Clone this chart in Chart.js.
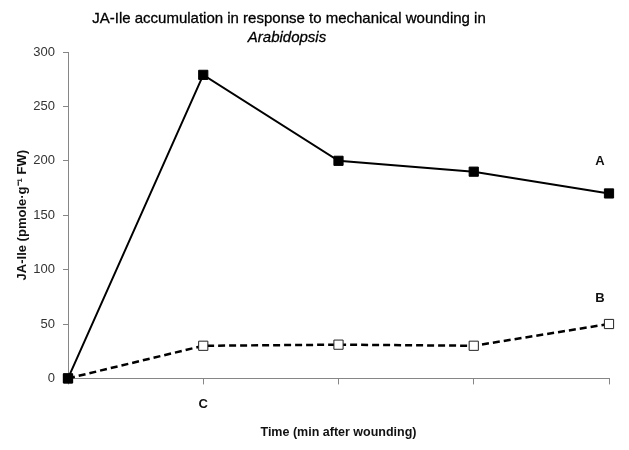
<!DOCTYPE html>
<html>
<head>
<meta charset="utf-8">
<script src="https://cdn.jsdelivr.net/npm/chart.js@4.4.1/dist/chart.umd.min.js"></script>
<style>
  html, body { margin: 0; padding: 0; background: #fff; }
  #wrap { width: 629px; height: 450px; }
</style>
</head>
<body>
<div id="wrap"><canvas id="woundChart"></canvas></div>
<script>
// values
const timeLabels = ['', 'C', '', '', ''];
const seriesA = [0, 279, 200, 190, 170];
const seriesB = [0, 30, 31, 30, 50];
const seriesNames = ['A', 'B'];
const yMax = 300;
const yStep = 50;

const titleLine1 = 'JA-Ile accumulation in response to mechanical wounding in';
const titleLine2 = 'Arabidopsis';
const fontFam = '"Liberation Sans", Arial, sans-serif';
const axisGrey = '#868686';

// two line title, second line in italic
const titlePlugin = {
  id: 'twoLineTitle',
  afterDraw(chart) {
    const c = chart.ctx;
    c.save();
    c.fillStyle = '#000';
    c.strokeStyle = '#000';
    c.lineWidth = 0.3;
    c.textAlign = 'center';
    c.textBaseline = 'middle';
    c.font = '15px ' + fontFam;
    c.fillText(titleLine1, 289, 19);
    c.strokeText(titleLine1, 289, 19);
    c.font = 'italic 15px ' + fontFam;
    c.fillText(titleLine2, 287, 38);
    c.strokeText(titleLine2, 287, 38);
    c.restore();
  }
};

// letter above the last point of each line
const endLabels = {
  id: 'endLabels',
  afterDatasetsDraw(chart) {
    const c = chart.ctx;
    c.save();
    c.fillStyle = '#111';
    c.font = 'bold 13px ' + fontFam;
    c.textAlign = 'center';
    c.textBaseline = 'middle';
    chart.data.datasets.forEach((ds, i) => {
      const pts = chart.getDatasetMeta(i).data;
      const last = pts[pts.length - 1];
      c.fillText(ds.label, last.x - 9, last.y - ds.labelGap);
    });
    c.restore();
  }
};

const ctx = document.getElementById('woundChart');
new Chart(ctx, {
  type: 'line',
  data: {
    labels: timeLabels,
    datasets: [{
      label: seriesNames[0],
      data: seriesA,
      labelGap: 32,
      clip: false,
      borderColor: '#000',
      borderWidth: 2,
      pointStyle: 'rect',
      pointRadius: 6.5,
      pointBackgroundColor: '#000',
      pointBorderColor: '#000',
      pointBorderWidth: 1,
      tension: 0
    }, {
      label: seriesNames[1],
      data: seriesB,
      labelGap: 26,
      clip: false,
      borderColor: '#000',
      borderWidth: 2.5,
      borderDash: [7, 4],
      pointStyle: 'rect',
      pointRadius: 6.5,
      pointBackgroundColor: '#fff',
      pointBorderColor: '#222',
      pointBorderWidth: 1,
      tension: 0
    }]
  },
  options: {
    responsive: true,
    maintainAspectRatio: false,
    animation: false,
    layout: { padding: { top: 52, right: 20, bottom: 10, left: 15 } },
    plugins: {
      legend: { display: false },
      tooltip: { enabled: false }
    },
    scales: {
      x: {
        offset: false,
        grid: { drawOnChartArea: false, drawTicks: true, tickLength: 6, color: axisGrey },
        border: { color: axisGrey, width: 1 },
        ticks: {
          color: '#111',
          padding: 12,
          autoSkip: false,
          maxRotation: 0,
          font: { family: fontFam, size: 13, weight: 'bold' }
        },
        title: {
          display: true,
          text: 'Time (min after wounding)',
          color: '#111',
          padding: { top: 1, bottom: 0 },
          font: { family: fontFam, size: 12.5, weight: 'bold' }
        }
      },
      y: {
        min: 0,
        max: yMax,
        afterFit(scale) { scale.width = 53; },
        grid: { drawOnChartArea: false, drawTicks: true, tickLength: 5, color: axisGrey },
        border: { color: axisGrey, width: 1 },
        ticks: {
          stepSize: yStep,
          color: '#333',
          padding: 8,
          font: { family: fontFam, size: 13 }
        },
        title: {
          display: true,
          text: 'JA-Ile (pmole·g⁻¹ FW)',
          color: '#111',
          padding: { top: 0, bottom: 0 },
          font: { family: fontFam, size: 13, weight: 'bold' }
        }
      }
    }
  },
  plugins: [titlePlugin, endLabels]
});
</script>
</body>
</html>
